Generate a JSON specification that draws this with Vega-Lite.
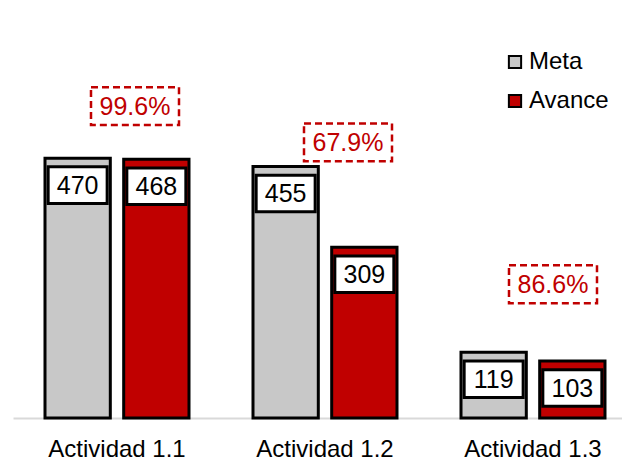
{
  "$schema": "https://vega.github.io/schema/vega-lite/v6.json",
  "width": 609,
  "height": 387,
  "autosize": {"type": "none"},
  "padding": {"left": 13, "top": 31, "right": 0, "bottom": 44},
  "background": "white",
  "config": {"view": {"stroke": null}, "font": "Liberation Sans"},
  "datasets": {
    "barras": [
      {"actividad": "Actividad 1.1", "serie": "Meta", "valor": 470},
      {"actividad": "Actividad 1.1", "serie": "Avance", "valor": 468},
      {"actividad": "Actividad 1.2", "serie": "Meta", "valor": 455},
      {"actividad": "Actividad 1.2", "serie": "Avance", "valor": 309},
      {"actividad": "Actividad 1.3", "serie": "Meta", "valor": 119},
      {"actividad": "Actividad 1.3", "serie": "Avance", "valor": 103}
    ],
    "avance": [
      {"actividad": "Actividad 1.1", "meta": 470, "pct": "99.6%"},
      {"actividad": "Actividad 1.2", "meta": 455, "pct": "67.9%"},
      {"actividad": "Actividad 1.3", "meta": 119, "pct": "86.6%"}
    ]
  },
  "encoding": {
    "x": {
      "field": "actividad",
      "type": "nominal",
      "title": null,
      "scale": {"paddingInner": 0.3077, "paddingOuter": 0.1178, "align": 0.653},
      "axis": {
        "labelAngle": 0,
        "labelFontSize": 24,
        "labelColor": "#000000",
        "labelPadding": 19,
        "ticks": false,
        "grid": false,
        "domainColor": "#D9D9D9",
        "domainWidth": 2
      }
    }
  },
  "layer": [
    {
      "data": {"name": "barras"},
      "layer": [
        {
          "mark": {"type": "bar", "stroke": "#000000", "strokeWidth": 3},
          "encoding": {
            "xOffset": {"field": "serie", "sort": ["Meta", "Avance"], "scale": {"paddingInner": 0.17, "paddingOuter": 0}},
            "y": {"field": "valor", "type": "quantitative", "scale": {"domain": [0, 700], "nice": false, "zero": true}, "axis": null},
            "color": {
              "field": "serie",
              "type": "nominal",
              "scale": {"domain": ["Meta", "Avance"], "range": ["#C8C8C8", "#C00000"]},
              "legend": {
                "title": null,
                "orient": "none",
                "legendX": 490,
                "legendY": 19,
                "symbolType": "square",
                "symbolSize": 150,
                "symbolStrokeColor": "#000000",
                "symbolStrokeWidth": 2,
                "labelFontSize": 24,
                "labelColor": "#000000",
                "labelOffset": 2,
                "rowPadding": 15
              }
            }
          }
        },
        {
          "mark": {"type": "point", "shape": "M-1,-0.62H1V0.62H-1Z", "size": 3481, "filled": true, "fill": "#FFFFFF", "stroke": "#000000", "strokeWidth": 3, "opacity": 1, "yOffset": 27},
          "encoding": {
            "xOffset": {"field": "serie", "sort": ["Meta", "Avance"], "scale": {"paddingInner": 0.17, "paddingOuter": 0}},
            "y": {"field": "valor", "type": "quantitative"}
          }
        },
        {
          "mark": {"type": "text", "fontSize": 25, "color": "#000000", "align": "center", "baseline": "middle", "yOffset": 28},
          "encoding": {
            "xOffset": {"field": "serie", "sort": ["Meta", "Avance"], "scale": {"paddingInner": 0.17, "paddingOuter": 0}},
            "y": {"field": "valor", "type": "quantitative"},
            "text": {"field": "valor", "type": "quantitative"}
          }
        }
      ]
    },
    {
      "data": {"name": "avance"},
      "transform": [{"filter": "datum.actividad === 'Actividad 1.1'"}],
      "encoding": {"y": {"field": "meta", "type": "quantitative"}},
      "layer": [
        {"mark": {"type": "point", "shape": "M-1,-0.43H1V0.43H-1Z", "size": 7744, "filled": false, "stroke": "#C00000", "strokeWidth": 2.5, "strokeDash": [7, 4], "opacity": 1, "xOffset": 18, "yOffset": -52}},
        {"mark": {"type": "text", "fontSize": 25, "color": "#C00000", "align": "center", "baseline": "middle", "xOffset": 18, "yOffset": -51}, "encoding": {"text": {"field": "pct"}}}
      ]
    },
    {
      "data": {"name": "avance"},
      "transform": [{"filter": "datum.actividad === 'Actividad 1.2'"}],
      "encoding": {"y": {"field": "meta", "type": "quantitative"}},
      "layer": [
        {"mark": {"type": "point", "shape": "M-1,-0.43H1V0.43H-1Z", "size": 7744, "filled": false, "stroke": "#C00000", "strokeWidth": 2.5, "strokeDash": [7, 4], "opacity": 1, "xOffset": 23, "yOffset": -24}},
        {"mark": {"type": "text", "fontSize": 25, "color": "#C00000", "align": "center", "baseline": "middle", "xOffset": 23, "yOffset": -23}, "encoding": {"text": {"field": "pct"}}}
      ]
    },
    {
      "data": {"name": "avance"},
      "transform": [{"filter": "datum.actividad === 'Actividad 1.3'"}],
      "encoding": {"y": {"field": "meta", "type": "quantitative"}},
      "layer": [
        {"mark": {"type": "point", "shape": "M-1,-0.43H1V0.43H-1Z", "size": 7744, "filled": false, "stroke": "#C00000", "strokeWidth": 2.5, "strokeDash": [7, 4], "opacity": 1, "xOffset": 20, "yOffset": -68}},
        {"mark": {"type": "text", "fontSize": 25, "color": "#C00000", "align": "center", "baseline": "middle", "xOffset": 20, "yOffset": -67}, "encoding": {"text": {"field": "pct"}}}
      ]
    }
  ]
}
